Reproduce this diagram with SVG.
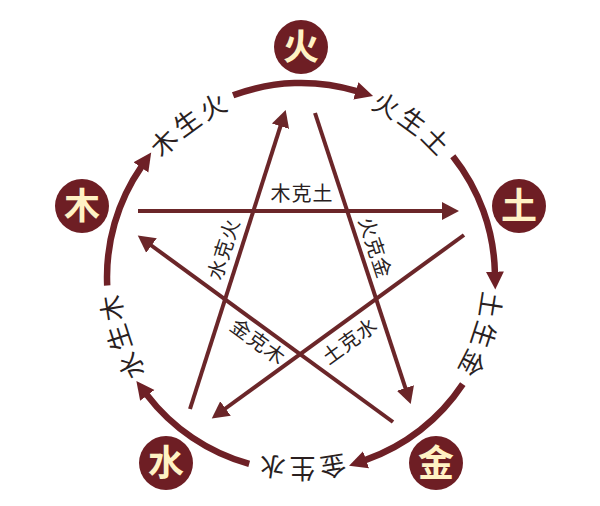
<svg xmlns="http://www.w3.org/2000/svg" width="600" height="506" viewBox="0 0 600 506">
<defs>
<style>
.node{fill:#6e1e24}
.nt{font-family:"Noto Sans CJK SC","Noto Sans",sans-serif;font-weight:bold;font-size:36px;fill:#fff2c4;text-anchor:middle}
.arc{fill:none;stroke:#6e2026;stroke-width:6.5;marker-end:url(#ah)}
.ke{fill:none;stroke:#6b2629;stroke-width:4;marker-end:url(#sh)}
.ol{font-family:"Noto Sans CJK SC","Noto Sans",sans-serif;font-size:26px;fill:#2a1f1f;letter-spacing:3px}
.il{font-family:"Noto Sans CJK SC","Noto Sans",sans-serif;font-size:20px;fill:#2a1f1f;text-anchor:middle;letter-spacing:1px}
</style>
<marker id="ah" markerUnits="userSpaceOnUse" viewBox="0 -10 20 20" markerWidth="20" markerHeight="20" refX="1" refY="0" orient="auto">
<path d="M0,-9 L18,0 L0,9 z" fill="#6e2026"/>
</marker>
<marker id="sh" markerUnits="userSpaceOnUse" viewBox="0 -10 20 20" markerWidth="20" markerHeight="20" refX="1" refY="0" orient="auto">
<path d="M0,-9 L17,0 L0,9 z" fill="#6b2629"/>
</marker>
<path id="p1" d="M272.5,97.2 A182,182 0 0 1 480.8,248.5"/>
<path id="p2" d="M463.2,194.4 A182,182 0 0 1 383.6,439.2"/>
<path id="p3" d="M429.7,405.7 A182,182 0 0 1 172.3,405.7"/>
<path id="p4" d="M218.4,439.2 A182,182 0 0 1 138.8,194.4"/>
<path id="p5" d="M121.2,248.5 A182,182 0 0 1 329.5,97.2"/>
</defs>
<rect width="600" height="506" fill="#ffffff"/>
<g id="connectors">
<path class="arc" d="M233.1,95.3 A194,194 0 0 1 356.8,91.2"/>
<path class="arc" d="M452.8,156.2 A194,194 0 0 1 494.9,272.6"/>
<path class="arc" d="M462.8,384.1 A194,194 0 0 1 365.1,460.1"/>
<path class="arc" d="M249.2,463.9 A194,194 0 0 1 146.7,394.6"/>
<path class="arc" d="M107.2,285.5 A194,194 0 0 1 141.5,166.6"/>
<line class="ke" x1="138" y1="211" x2="443" y2="211"/>
<line class="ke" x1="315" y1="113" x2="405.7" y2="388.9"/>
<line class="ke" x1="393" y1="422" x2="150.7" y2="245"/>
<line class="ke" x1="190" y1="409" x2="280.8" y2="125.2"/>
<line class="ke" x1="464" y1="235" x2="224.7" y2="409"/>
</g>
<g id="labels">
<text class="ol"><textPath href="#p1" startOffset="50%" text-anchor="middle">火生土</textPath></text>
<text class="ol"><textPath href="#p2" startOffset="50%" text-anchor="middle">土生金</textPath></text>
<text class="ol"><textPath href="#p3" startOffset="50%" text-anchor="middle">金生水</textPath></text>
<text class="ol"><textPath href="#p4" startOffset="50%" text-anchor="middle">水生木</textPath></text>
<text class="ol"><textPath href="#p5" startOffset="50%" text-anchor="middle">木生火</textPath></text>
<text class="il" transform="translate(302,194)" y="7">木克土</text>
<text class="il" transform="translate(375,248) rotate(71.8)" y="7">火克金</text>
<text class="il" transform="translate(224,249) rotate(-72.3)" y="7">水克火</text>
<text class="il" transform="translate(258,342) rotate(36.1)" y="7">金克木</text>
<text class="il" transform="translate(350,341) rotate(-36)" y="7">土克水</text>
</g>
<g id="node-huo"><circle class="node" cx="301" cy="47" r="27"/><text class="nt" x="301" y="60">火</text></g>
<g id="node-tu"><circle class="node" cx="519" cy="206" r="27"/><text class="nt" x="519" y="219">土</text></g>
<g id="node-jin"><circle class="node" cx="436" cy="463" r="27"/><text class="nt" x="436" y="476">金</text></g>
<g id="node-shui"><circle class="node" cx="166" cy="463" r="27"/><text class="nt" x="166" y="476">水</text></g>
<g id="node-mu"><circle class="node" cx="82" cy="206" r="27"/><text class="nt" x="82" y="219">木</text></g>
</svg>
